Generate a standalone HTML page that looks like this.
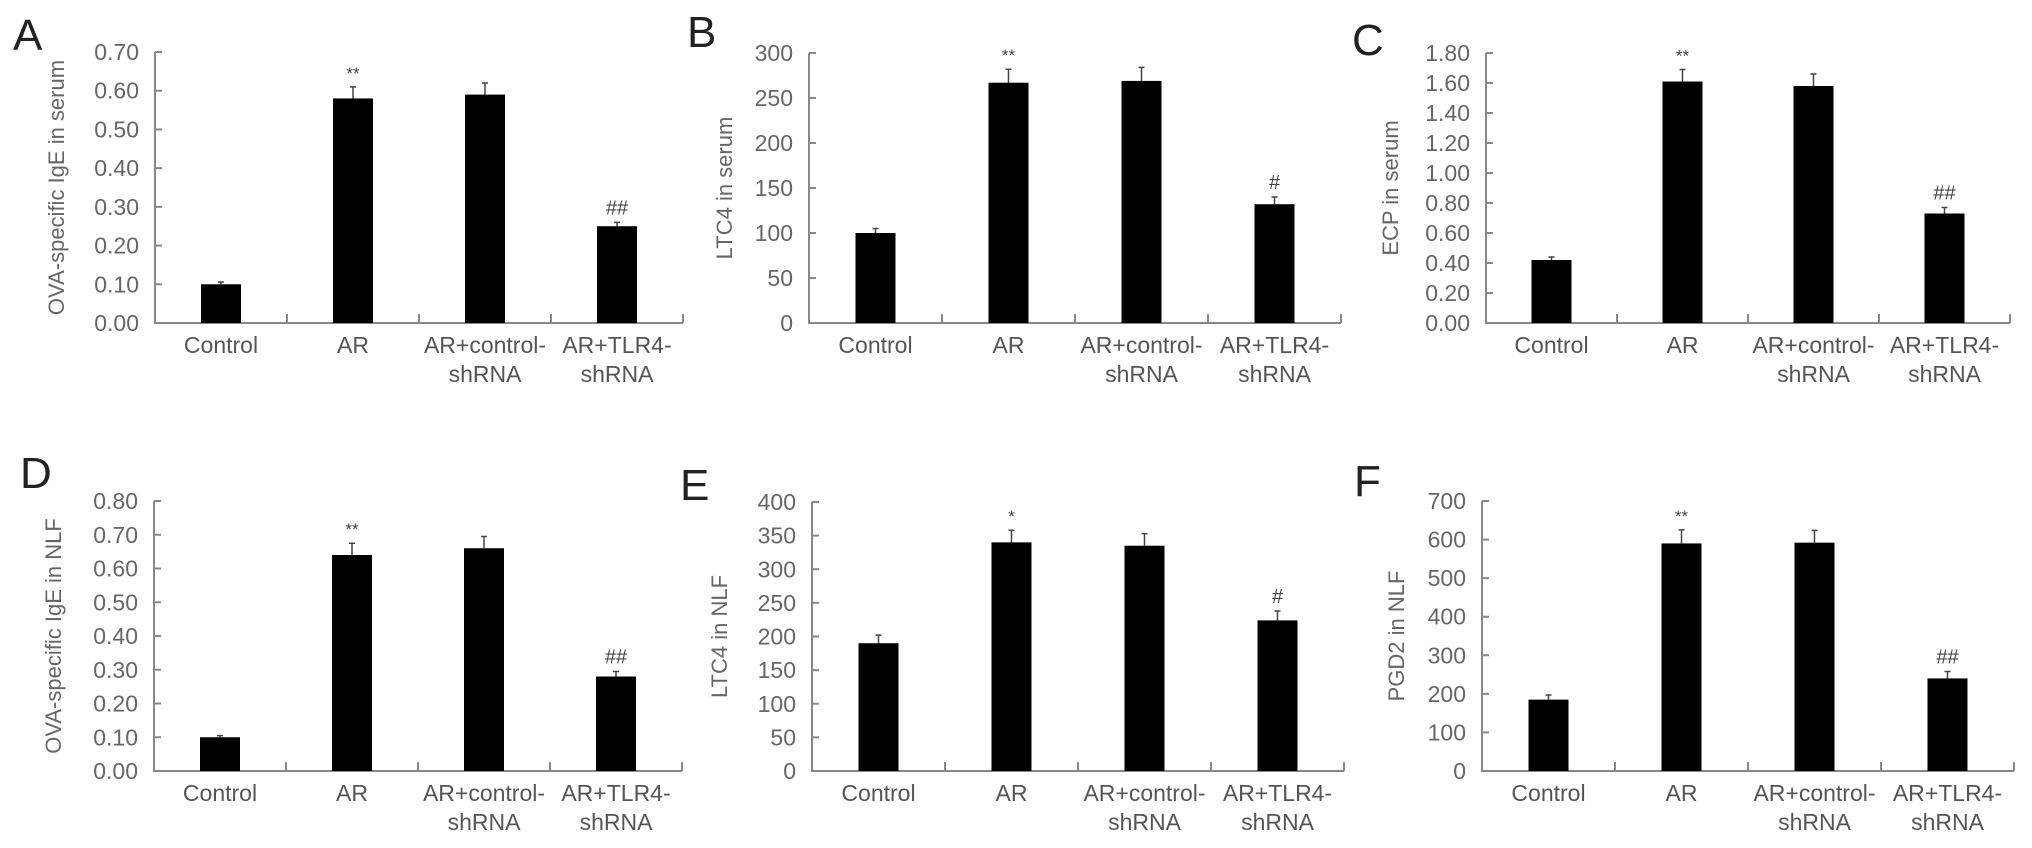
<!DOCTYPE html>
<html><head><meta charset="utf-8"><style>
html,body{margin:0;padding:0;background:#fff;}
svg{display:block;font-family:"Liberation Sans",Arial,sans-serif;}
</style></head><body>
<svg id="fig" width="2032" height="848" viewBox="0 0 2032 848"></svg>
<script>
const categories = ["Control","AR","AR+control-|shRNA","AR+TLR4-|shRNA"];
const valuesA = [0.10, 0.58, 0.59, 0.25];
const errorsA = [0.006, 0.03, 0.03, 0.01];
const marksA = ["", "**", "", "##"];
const ticksA = ["0.00","0.10","0.20","0.30","0.40","0.50","0.60","0.70"];
const valuesB = [100, 267, 269, 132];
const errorsB = [5, 15, 15, 8];
const marksB = ["", "**", "", "#"];
const ticksB = ["0","50","100","150","200","250","300"];
const valuesC = [0.42, 1.61, 1.58, 0.73];
const errorsC = [0.02, 0.08, 0.08, 0.04];
const marksC = ["", "**", "", "##"];
const ticksC = ["0.00","0.20","0.40","0.60","0.80","1.00","1.20","1.40","1.60","1.80"];
const valuesD = [0.10, 0.64, 0.66, 0.28];
const errorsD = [0.005, 0.035, 0.035, 0.015];
const marksD = ["", "**", "", "##"];
const ticksD = ["0.00","0.10","0.20","0.30","0.40","0.50","0.60","0.70","0.80"];
const valuesE = [190, 340, 335, 224];
const errorsE = [12, 18, 18, 14];
const marksE = ["", "*", "", "#"];
const ticksE = ["0","50","100","150","200","250","300","350","400"];
const valuesF = [185, 590, 592, 240];
const errorsF = [12, 35, 32, 18];
const marksF = ["", "**", "", "##"];
const ticksF = ["0","100","200","300","400","500","600","700"];

const NS = "http://www.w3.org/2000/svg";
const svg = document.getElementById("fig");
function mk(tag, attrs, parent){
  const e = document.createElementNS(NS, tag);
  for (const k in attrs) e.setAttribute(k, attrs[k]);
  (parent||svg).appendChild(e);
  return e;
}
const panels = [
 {L:"A", title:"OVA-specific IgE in serum", vals:valuesA, errs:errorsA, marks:marksA, ticks:ticksA, ax:155, top:52, zero:323, cat:132, lx:13, ly:50, tx:64},
 {L:"B", title:"LTC4 in serum", vals:valuesB, errs:errorsB, marks:marksB, ticks:ticksB, ax:809, top:53, zero:323, cat:133, lx:687, ly:47, tx:732},
 {L:"C", title:"ECP in serum", vals:valuesC, errs:errorsC, marks:marksC, ticks:ticksC, ax:1486, top:53, zero:323, cat:131, lx:1352, ly:55, tx:1398},
 {L:"D", title:"OVA-specific IgE in NLF", vals:valuesD, errs:errorsD, marks:marksD, ticks:ticksD, ax:154, top:501, zero:771, cat:132, lx:20, ly:488, tx:61},
 {L:"E", title:"LTC4 in NLF", vals:valuesE, errs:errorsE, marks:marksE, ticks:ticksE, ax:812, top:502, zero:771, cat:133, lx:680, ly:500, tx:727},
 {L:"F", title:"PGD2 in NLF", vals:valuesF, errs:errorsF, marks:marksF, ticks:ticksF, ax:1482, top:501, zero:771, cat:133, lx:1354, ly:496, tx:1404}
];
panels.forEach(p => {
  const g = mk("g", {});
  
  
  const maxV = parseFloat(p.ticks[p.ticks.length-1]);
  const y = v => p.zero - (v / maxV) * (p.zero - p.top);
  const x = i => p.ax + p.cat * (i + 0.5);
  const lt = mk("text", {x:p.lx, y:p.ly, "font-size":44, fill:"#222"}, g);
  lt.textContent = p.L;
  
  
  const yt = mk("text", {x:p.tx, y:(p.top+p.zero)/2, "font-size":22, fill:"#666", "text-anchor":"middle", transform:`rotate(-90 ${p.tx} ${(p.top+p.zero)/2})`}, g);
  yt.textContent = p.title;
  
  
  const endX = p.ax + p.cat * categories.length;
  const axes = mk("path", {d:`M${p.ax} ${p.top}V${p.zero}H${endX}`, stroke:"#888", "stroke-width":2, fill:"none"}, g);
  
  
  p.ticks.forEach(t => {
    const v = parseFloat(t), yy = y(v);
    const tk = mk("line", {x1:p.ax, x2:p.ax+7, y1:yy, y2:yy, stroke:"#888", "stroke-width":2}, g);
    
    
    const tl = mk("text", {x:p.ax-16, y:yy+8, "font-size":23, fill:"#666", "text-anchor":"end"}, g);
    tl.textContent = t;
    
    
  });
  for (let i = 1; i <= categories.length; i++) {
    const xx = p.ax + p.cat * i;
    const tk = mk("line", {x1:xx, x2:xx, y1:p.zero, y2:p.zero-9, stroke:"#888", "stroke-width":2}, g);
    
    
  }
  categories.forEach((c, i) => {
    const cx = x(i), v = p.vals[i], e = p.errs[i];
    const eb = mk("path", {d:`M${cx} ${y(v)}V${y(v+e)}M${cx-3} ${y(v+e)}H${cx+3}`, stroke:"#444", "stroke-width":1.5, fill:"none"}, g);
    
    
    const b = mk("rect", {x:cx-20, y:y(v), width:40, height:p.zero-y(v), fill:"#000"}, g);
    
    
    if (p.marks[i]) {
      const m = mk("text", {x:cx, y:y(v+e)-8, "font-size":p.marks[i][0]=="*"?17:20, fill:"#444", "text-anchor":"middle"}, g);
      m.textContent = p.marks[i];
      
      
    }
    const parts = c.split("|");
    parts.forEach((s, k) => {
      const t = mk("text", {x:cx, y:p.zero+30+k*29, "font-size":23, fill:"#555", "text-anchor":"middle"}, g);
      t.textContent = s;
      
      
    });
  });
});
</script>
</body></html>
